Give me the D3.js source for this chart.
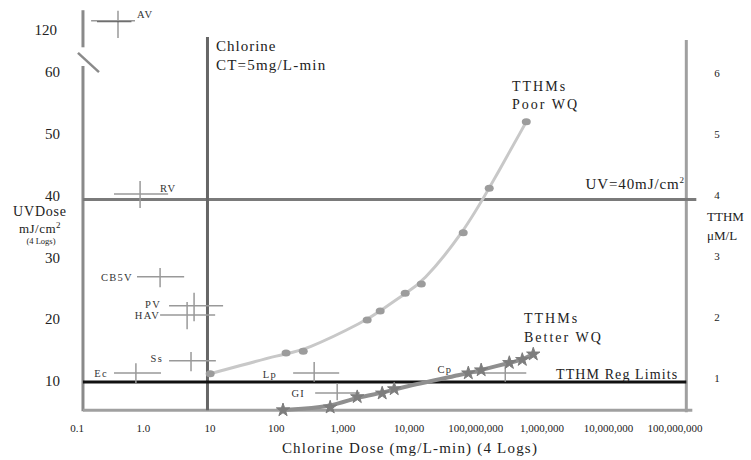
<!DOCTYPE html>
<html>
<head>
<meta charset="utf-8">
<script src="https://cdn.jsdelivr.net/npm/d3@7"></script>
<style>
  body { margin: 0; background: #fff; }
  text { font-family: "Liberation Serif", "DejaVu Serif", serif; fill: #222; }
</style>
</head>
<body>
<svg id="chart"></svg>
<script>
var width = 751,
    height = 460;

// x ticks (log decades), labels copied as printed
var xTickValues = [0.1, 1, 10, 100, 1e3, 1e4, 1e5, 1e6, 1e7, 1e8];
var xTickLabels = ['0.1', '1.0', '10', '100', '1,000', '10,000', '100,000,000', '1,000,000', '10,000,000', '100,000,000'];
var uvTicks = [10, 20, 30, 40, 50, 60];
var uvBreakTick = 120;
var tthmTicks = [1, 2, 3, 4, 5, 6];

// microbes: chlorine CT range (x) and UV dose range (y)
var microbes = ['AV', 'RV', 'CB5V', 'PV', 'HAV', 'Ss', 'Ec', 'Lp', 'GI', 'Cp'];
var clLow  = [0.163, 0.36, 0.80, 2.43, 1.78, 2.43, 0.36, 179, 384, 83000];
var clMid  = [0.414, 0.89, 1.78, 5.78, 4.54, 5.2, 0.77, 371, 824, 279000];
var clHigh = [0.746, 2.35, 4.1, 15.8, 12.0, 12.3, 1.84, 883, 1800, 578000];
var uvLow  = [118.7, 38.3, 25.5, 20.0, 18.7, 11.9, 10.0, 10.2, 7.2, 10.2];
var uvMid  = [121.5, 40.6, 27.2, 22.5, 21.0, 13.6, 11.6, 11.6, 8.4, 11.6];
var uvHigh = [123.1, 42.7, 28.6, 24.6, 23.1, 15.0, 13.2, 13.4, 10.0, 12.9];

// TTHM formation vs chlorine dose
var poorDose = [10.1, 140, 254, 2330, 3660, 8700, 15200, 65000, 160000, 578000];
var poorTTHM = [1.07, 1.41, 1.44, 1.95, 2.10, 2.39, 2.54, 3.38, 4.11, 5.20];
var betterDose = [126, 646, 1650, 3920, 5940, 77500, 121000, 321000, 503000, 736000];
var betterTTHM = [0.475, 0.52, 0.69, 0.75, 0.82, 1.08, 1.13, 1.25, 1.30, 1.39];

var chlorineCT = 9.2;     // where the CT line sits
var uvLimit = 40;
var tthmRegLimit = 10;    // on the UV scale
var xMin = 0.123, xMax = 1.48e8;
var uvMin = 5.6, uvTop = 61.3;
var tthmTop = 6.54;

var x = d3.scaleLog().domain([0.1, 1e8]).range([77, 675]);
var yUV = d3.scaleLinear().domain([10, 60]).range([383, 74]);
var yHi = d3.scaleLinear().domain([110, 130]).range([30 + 61.8, 30 - 61.8]);
var yT = d3.scaleLinear().domain([1, 6]).range([378, 73]);

function yAny(v) { return v > 80 ? yHi(v) : yUV(v); }

var svg = d3.select('#chart')
    .attr('width', width)
    .attr('height', height);

// frame lines
svg.append('line')
    .attr('x1', x(xMin)).attr('x2', x(xMin))
    .attr('y1', yUV(uvTop)).attr('y2', yUV(uvMin) + 1)
    .attr('stroke', '#8a8a8a').attr('stroke-width', 3);
svg.append('line')
    .attr('x1', x(xMin)).attr('x2', x(xMin))
    .attr('y1', yHi(123.2)).attr('y2', yHi(117.2))
    .attr('stroke', '#8a8a8a').attr('stroke-width', 3);
// axis break slash
svg.append('line')
    .attr('x1', x(xMin) - 5).attr('y1', yHi(116.3))
    .attr('x2', x(xMin) + 16).attr('y2', yUV(60.3))
    .attr('stroke', '#8a8a8a').attr('stroke-width', 2.5);

svg.append('line')
    .attr('x1', x(xMin)).attr('x2', x(xMax) + 6)
    .attr('y1', yUV(uvMin)).attr('y2', yUV(uvMin))
    .attr('stroke', '#a0a0a0').attr('stroke-width', 3);
svg.append('line')
    .attr('x1', x(xMax)).attr('x2', x(xMax))
    .attr('y1', yT(tthmTop)).attr('y2', yUV(uvMin) + 2)
    .attr('stroke', '#a0a0a0').attr('stroke-width', 3);

// reference lines
svg.append('line')
    .attr('x1', x(xMin)).attr('x2', x(xMax) + 10)
    .attr('y1', yUV(uvLimit) + 2).attr('y2', yUV(uvLimit) + 2)
    .attr('stroke', '#7a7a7a').attr('stroke-width', 3);
svg.append('line')
    .attr('x1', x(chlorineCT)).attr('x2', x(chlorineCT))
    .attr('y1', 37).attr('y2', yUV(uvMin))
    .attr('stroke', '#666').attr('stroke-width', 3);
svg.append('line')
    .attr('x1', x(xMin)).attr('x2', x(xMax))
    .attr('y1', yUV(tthmRegLimit) - 1).attr('y2', yUV(tthmRegLimit) - 1)
    .attr('stroke', '#111').attr('stroke-width', 3);

// microbe crosshairs
var cross = svg.append('g').attr('class', 'microbes');
microbes.forEach(function(m, i) {
  cross.append('line')
    .attr('x1', x(clLow[i])).attr('x2', x(clHigh[i]))
    .attr('y1', yAny(uvMid[i])).attr('y2', yAny(uvMid[i]))
    .attr('stroke', '#999').attr('stroke-width', 1.5);
  cross.append('line')
    .attr('x1', x(clMid[i])).attr('x2', x(clMid[i]))
    .attr('y1', yAny(uvLow[i])).attr('y2', yAny(uvHigh[i]))
    .attr('stroke', '#999').attr('stroke-width', 1.5);
});
// darker segment on AV
cross.append('line')
  .attr('x1', x(0.2)).attr('x2', x(0.66))
  .attr('y1', yHi(uvMid[0]) + 1).attr('y2', yHi(uvMid[0]) + 1)
  .attr('stroke', '#555').attr('stroke-width', 1);

// microbe labels
var labelPos = {
  AV:   { dx: 2,  dy: -3, anchor: 'start', at: 'high' },
  RV:   { dx: -8, dy: -2, anchor: 'start', at: 'high' },
  CB5V: { dx: -4, dy: 4,  anchor: 'end',   at: 'low' },
  PV:   { dx: -8, dy: 2,  anchor: 'end',   at: 'low' },
  HAV:  { dx: 0,  dy: 4,  anchor: 'end',   at: 'low' },
  Ss:   { dx: -6, dy: 1,  anchor: 'end',   at: 'low' },
  Ec:   { dx: -6, dy: 4,  anchor: 'end',   at: 'low' },
  Lp:   { dx: -16, dy: 5, anchor: 'end',   at: 'low' },
  GI:   { dx: -10, dy: 4, anchor: 'end',   at: 'low' },
  Cp:   { dx: -18, dy: 0, anchor: 'end',   at: 'low' }
};
microbes.forEach(function(m, i) {
  var p = labelPos[m];
  var xv = p.at === 'high' ? x(clHigh[i]) : x(clLow[i]);
  cross.append('text')
    .attr('x', xv + p.dx)
    .attr('y', yAny(uvMid[i]) + p.dy)
    .attr('text-anchor', p.anchor)
    .attr('font-size', 10.5)
    .attr('letter-spacing', 1.3)
    .style('fill', '#333')
    .text(m);
});

// TTHM curves
var poor = poorDose.map(function(d, i) { return [d, poorTTHM[i]]; });
var better = betterDose.map(function(d, i) { return [d, betterTTHM[i]]; });
var line = d3.line()
    .x(function(d) { return x(d[0]); })
    .y(function(d) { return yT(d[1]); })
    .curve(d3.curveBasis);

svg.append('path')
    .attr('d', line(poor))
    .attr('fill', 'none')
    .attr('stroke', '#c8c8c8')
    .attr('stroke-width', 3);
svg.selectAll('.poor')
    .data(poor)
    .enter().append('ellipse')
    .attr('class', 'poor')
    .attr('cx', function(d) { return x(d[0]); })
    .attr('cy', function(d) { return yT(d[1]); })
    .attr('rx', 4.5).attr('ry', 3.5)
    .attr('fill', '#9c9c9c');

svg.append('path')
    .attr('d', line(better))
    .attr('fill', 'none')
    .attr('stroke', '#8f8f8f')
    .attr('stroke-width', 4);
svg.selectAll('.better')
    .data(better)
    .enter().append('path')
    .attr('class', 'better')
    .attr('transform', function(d) { return 'translate(' + x(d[0]) + ',' + yT(d[1]) + ')'; })
    .attr('d', d3.symbol().type(d3.symbolStar).size(55))
    .attr('fill', '#7d7d7d')
    .attr('stroke', '#7d7d7d')
    .attr('stroke-width', 1);

// x tick labels
svg.selectAll('.xtick')
    .data(xTickValues)
    .enter().append('text')
    .attr('class', 'xtick')
    .attr('x', function(d) { return x(d); })
    .attr('y', 432)
    .attr('text-anchor', 'middle')
    .attr('font-size', 11)
    .text(function(d, i) { return xTickLabels[i]; });

// left tick labels
svg.selectAll('.ytick')
    .data(uvTicks)
    .enter().append('text')
    .attr('class', 'ytick')
    .attr('x', 60)
    .attr('y', function(d) { return yUV(d) - 2; })
    .attr('dy', '0.35em')
    .attr('text-anchor', 'end')
    .attr('font-size', 15)
    .text(function(d) { return d; });
svg.append('text')
    .attr('x', 57)
    .attr('y', yHi(uvBreakTick))
    .attr('dy', '0.35em')
    .attr('text-anchor', 'end')
    .attr('font-size', 15)
    .text(uvBreakTick);

// right tick labels
svg.selectAll('.ttick')
    .data(tthmTicks)
    .enter().append('text')
    .attr('class', 'ttick')
    .attr('x', 717)
    .attr('y', function(d) { return yT(d); })
    .attr('dy', '0.35em')
    .attr('text-anchor', 'middle')
    .attr('font-size', 11)
    .text(function(d) { return d; });

// axis titles
svg.append('text')
    .attr('x', 40).attr('y', 216)
    .attr('text-anchor', 'middle')
    .attr('font-size', 14).attr('letter-spacing', 0.8)
    .text('UVDose');
var mj = svg.append('text')
    .attr('x', 40).attr('y', 233)
    .attr('text-anchor', 'middle')
    .attr('font-size', 13).attr('letter-spacing', 0.5);
mj.append('tspan').text('mJ/cm');
mj.append('tspan').attr('dy', -5).attr('font-size', 9).text('2');
svg.append('text')
    .attr('x', 41).attr('y', 244)
    .attr('text-anchor', 'middle')
    .attr('font-size', 8.5)
    .text('(4 Logs)');

svg.append('text')
    .attr('x', 707).attr('y', 221)
    .attr('font-size', 13)
    .text('TTHM');
svg.append('text')
    .attr('x', 707).attr('y', 240)
    .attr('font-size', 13)
    .text('\u03bcM/L');

svg.append('text')
    .attr('x', 410).attr('y', 453)
    .attr('text-anchor', 'middle')
    .attr('font-size', 15).attr('letter-spacing', 1.2)
    .text('Chlorine Dose (mg/L-min) (4 Logs)');

// annotations
svg.append('text')
    .attr('x', 216).attr('y', 51)
    .attr('font-size', 15).attr('letter-spacing', 1)
    .text('Chlorine');
svg.append('text')
    .attr('x', 216).attr('y', 70)
    .attr('font-size', 15).attr('letter-spacing', 1.2)
    .text('CT=5mg/L-min');

svg.append('text')
    .attr('x', 512).attr('y', 91)
    .attr('font-size', 14).attr('letter-spacing', 2)
    .text('TTHMs');
svg.append('text')
    .attr('x', 512).attr('y', 109)
    .attr('font-size', 14).attr('letter-spacing', 2)
    .text('Poor WQ');

svg.append('text')
    .attr('x', 524).attr('y', 323)
    .attr('font-size', 14).attr('letter-spacing', 2)
    .text('TTHMs');
svg.append('text')
    .attr('x', 524).attr('y', 342)
    .attr('font-size', 14).attr('letter-spacing', 2)
    .text('Better WQ');

svg.append('text')
    .attr('x', 556).attr('y', 379)
    .attr('font-size', 14).attr('letter-spacing', 1.1)
    .text('TTHM Reg Limits');

var uvl = svg.append('text')
    .attr('x', 685).attr('y', 189)
    .attr('text-anchor', 'end')
    .attr('font-size', 15).attr('letter-spacing', 0.9);
uvl.append('tspan').text('UV=40mJ/cm');
uvl.append('tspan').attr('dy', -6).attr('font-size', 9).text('2');
</script>
</body>
</html>
